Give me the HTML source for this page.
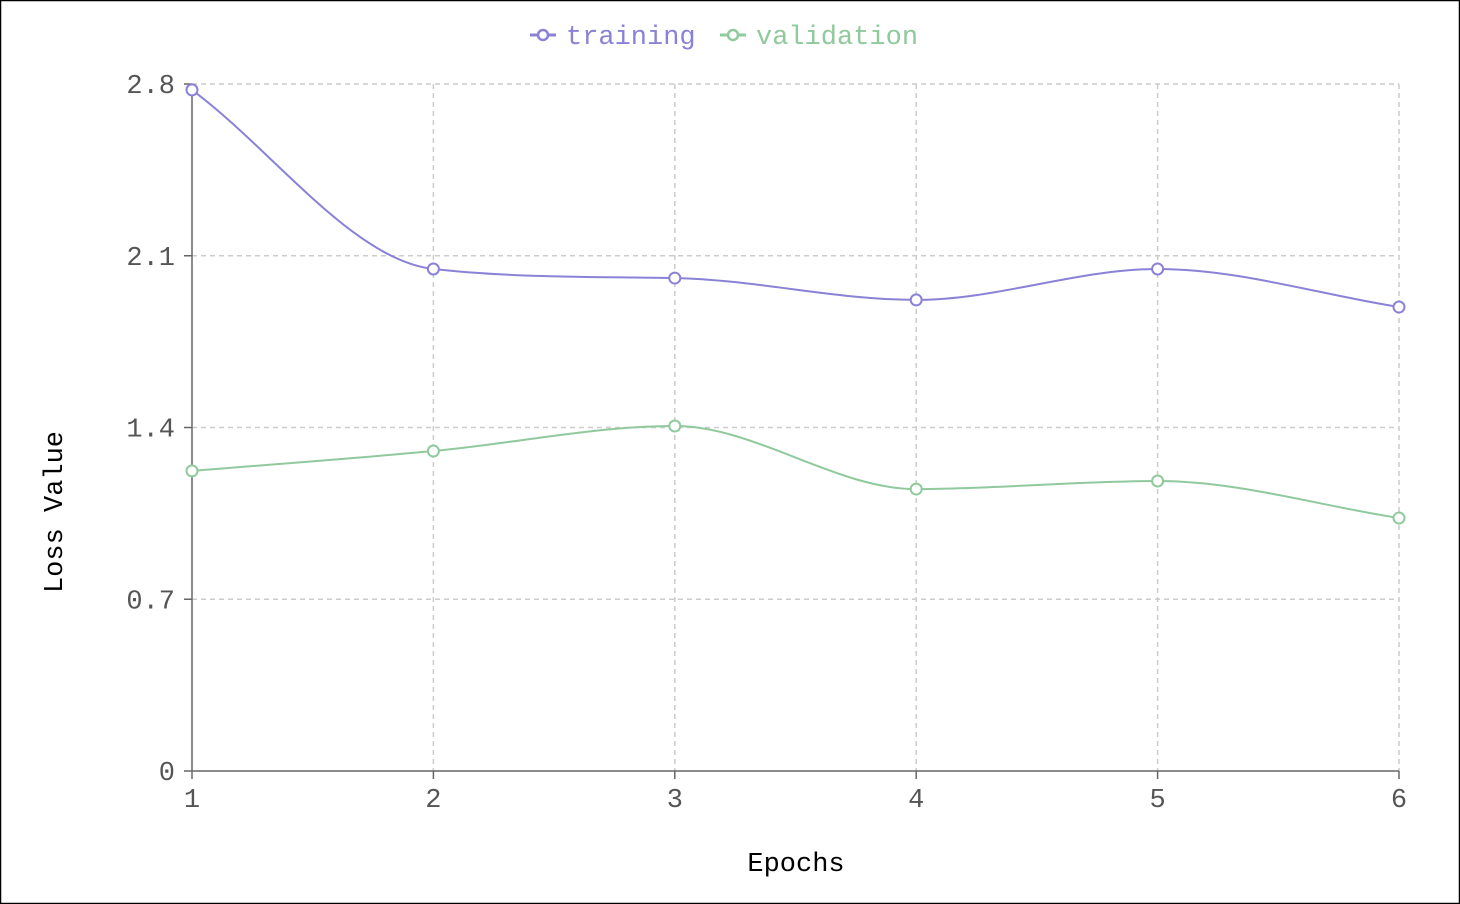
<!DOCTYPE html>
<html><head><meta charset="utf-8"><style>
html,body{margin:0;padding:0;background:#fff;}
svg{display:block;}
text{font-family:"Liberation Mono",monospace;}
</style></head><body>
<svg id="chart" width="1460" height="904" xmlns="http://www.w3.org/2000/svg">
<rect x="0.5" y="0.5" width="1459" height="903" fill="#fff" stroke="#000" stroke-width="1.5"/>
<g id="grid"></g>
<g id="axes"></g>
<g id="series"></g>
<g>
  <g>
    <line x1="530" y1="35" x2="556" y2="35" stroke="#8a82d6" stroke-width="3"/>
    <circle cx="543" cy="35" r="5" fill="#fff" stroke="#8a82d6" stroke-width="2.5"/>
    <text x="566" y="44" font-size="27" fill="#8a82d6">training</text>
  </g>
  <g>
    <line x1="720" y1="35" x2="746" y2="35" stroke="#8fc99c" stroke-width="3"/>
    <circle cx="733" cy="35" r="5" fill="#fff" stroke="#8fc99c" stroke-width="2.5"/>
    <text x="756" y="44" font-size="27" fill="#8fc99c">validation</text>
  </g>
</g>
<text x="796" y="871" font-size="27" text-anchor="middle" fill="#000">Epochs</text>
<text transform="translate(62,512) rotate(-90)" font-size="27" text-anchor="middle" fill="#000">Loss Value</text>
</svg>
<script>
const epochs = [1,2,3,4,5,6];
const training = [2.776,2.046,2.009,1.920,2.046,1.891];
const validation = [1.223,1.304,1.406,1.149,1.182,1.031];
const yTicks = [0,0.7,1.4,2.1,2.8];
const yTickLabels = ["0","0.7","1.4","2.1","2.8"];

const NS="http://www.w3.org/2000/svg";
const X0=192,X1=1399,Y0=771,Y1=84;
const xs=v=>X0+(v-epochs[0])/(epochs[epochs.length-1]-epochs[0])*(X1-X0);
const ys=v=>Y0-(v/2.8)*(Y0-Y1);
function mk(tag,attrs,parent){const e=document.createElementNS(NS,tag);for(const k in attrs)e.setAttribute(k,attrs[k]);parent.appendChild(e);return e;}
const grid=document.getElementById('grid'),axes=document.getElementById('axes'),series=document.getElementById('series');
yTicks.forEach((t,i)=>{
  const y=ys(t);
  if(t>0){const l=mk('line',{x1:X0,x2:X1,y1:y,y2:y,stroke:'#ccc','stroke-width':1.5,'stroke-dasharray':'5,4'},grid);
  
  }
  const tk=mk('line',{x1:X0-8,x2:X0,y1:y,y2:y,stroke:'#666','stroke-width':1.5},axes);
  
  
  const tx=mk('text',{x:X0-17,y:y+9,'font-size':27,'text-anchor':'end',fill:'#555'},axes);
  tx.textContent=yTickLabels[i];
  
  
});
epochs.forEach(e=>{
  const x=xs(e);
  if(e>epochs[0]){const l=mk('line',{x1:x,x2:x,y1:Y1,y2:Y0,stroke:'#ccc','stroke-width':1.5,'stroke-dasharray':'5,4'},grid);
  
  }
  const tk=mk('line',{x1:x,x2:x,y1:Y0,y2:Y0+8,stroke:'#666','stroke-width':1.5},axes);
  
  
  const tx=mk('text',{x:x,y:Y0+36,'font-size':27,'text-anchor':'middle',fill:'#555'},axes);
  tx.textContent=String(e);
  
  
});
const xa=mk('line',{x1:X0,x2:X1,y1:Y0,y2:Y0,stroke:'#666','stroke-width':1.5},axes);


const ya=mk('line',{x1:X0,x2:X0,y1:Y1,y2:Y0,stroke:'#666','stroke-width':1.5},axes);



function monotone(px,py){
  const n=px.length,d=[],m=[];
  for(let i=0;i<n-1;i++)d.push((py[i+1]-py[i])/(px[i+1]-px[i]));
  for(let i=0;i<n;i++){
    if(i===0)m.push(d[0]);else if(i===n-1)m.push(d[n-2]);
    else m.push(d[i-1]*d[i]<=0?0:(d[i-1]+d[i])/2);
  }
  for(let i=0;i<n-1;i++){if(d[i]===0){m[i]=m[i+1]=0;continue;}
    const a=m[i]/d[i],b=m[i+1]/d[i],s=a*a+b*b;if(s>9){const t=3/Math.sqrt(s);m[i]=t*a*d[i];m[i+1]=t*b*d[i];}}
  let p=`M${px[0]},${py[0]}`;
  for(let i=0;i<n-1;i++){const h=(px[i+1]-px[i])/3;
    p+=`C${px[i]+h},${py[i]+m[i]*h} ${px[i+1]-h},${py[i+1]-m[i+1]*h} ${px[i+1]},${py[i+1]}`;}
  return p;
}
function draw(vals,color,name){
  const px=epochs.map(xs),py=vals.map(ys);
  const path=mk('path',{d:monotone(px,py),fill:'none',stroke:color,'stroke-width':2},series);
  
  
  vals.forEach((v,i)=>{
    const c=mk('circle',{cx:px[i],cy:py[i],r:5.5,fill:'#fff',stroke:color,'stroke-width':2},series);
    
    
  });
}
draw(training,'#8a82d6','training');
draw(validation,'#8fc99c','validation');
</script>
</body></html>
